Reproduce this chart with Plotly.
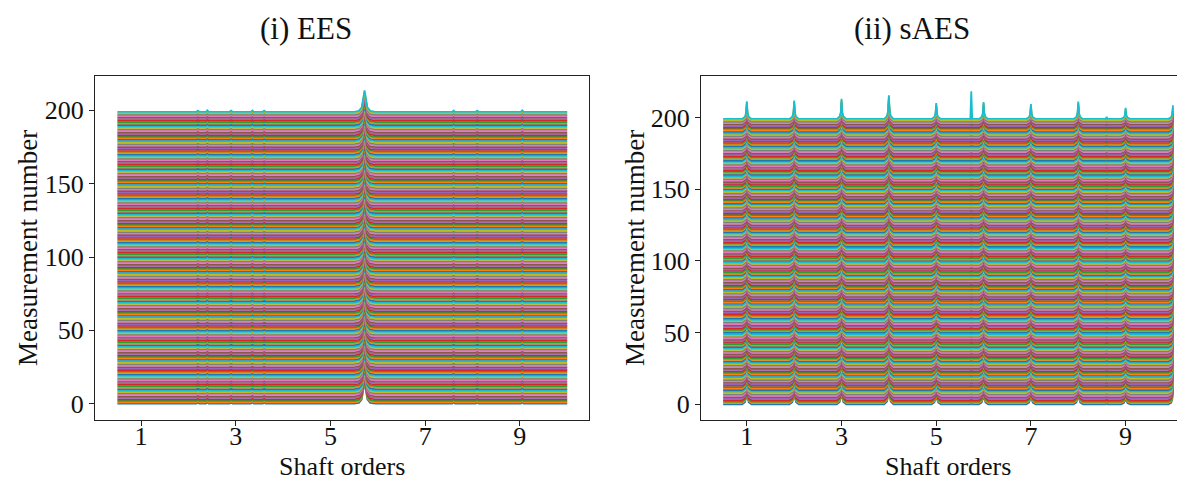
import plotly.graph_objects as go

# ---------------- data ----------------
measurement_numbers = list(range(200))

# EES: common spectral profile (shaft order, amplitude above the measurement offset)
ees_orders = [0.5, 2.17, 2.2, 2.23, 2.37, 2.4, 2.43, 2.87, 2.9, 2.93, 3.32, 3.35, 3.38,
              3.57, 3.6, 3.63, 5.5, 5.6, 5.66, 5.72, 5.78, 5.84, 5.95,
              7.57, 7.6, 7.63, 8.07, 8.1, 8.13, 9.02, 9.05, 9.08, 10.0]
ees_amplitude = [0.0, 0.0, 0.8, 0.0, 0.0, 1.0, 0.0, 0.0, 0.8, 0.0, 0.0, 0.9, 0.0,
                 0.0, 0.8, 0.0, 0.0, 0.6, 3.0, 14.5, 3.0, 0.6, 0.0,
                 0.0, 0.9, 0.0, 0.0, 0.8, 0.0, 0.0, 1.0, 0.0, 0.0]

# sAES: harmonics of the shaft order plus a spur at 5.74
saes_orders = [0.5,
               0.9, 0.96, 0.985, 1.0, 1.015, 1.04, 1.1,
               1.9, 1.96, 1.985, 2.0, 2.015, 2.04, 2.1,
               2.9, 2.96, 2.985, 3.0, 3.015, 3.04, 3.1,
               3.9, 3.96, 3.985, 4.0, 4.015, 4.04, 4.1,
               4.9, 4.96, 4.985, 5.0, 5.015, 5.04, 5.1,
               5.72, 5.74, 5.76,
               5.9, 5.96, 5.985, 6.0, 6.015, 6.04, 6.1,
               6.9, 6.96, 6.985, 7.0, 7.015, 7.04, 7.1,
               7.9, 7.96, 7.985, 8.0, 8.015, 8.04, 8.1,
               8.58, 8.6, 8.62,
               8.9, 8.96, 8.985, 9.0, 9.015, 9.04, 9.1,
               9.9, 9.96, 9.985, 10.0]
saes_amplitude = [0.0,
                  0.0, 1.5, 4.3, 12.3, 4.3, 1.5, 0.0,
                  0.0, 1.5, 4.4, 12.7, 4.4, 1.5, 0.0,
                  0.0, 1.7, 4.9, 14.0, 4.9, 1.7, 0.0,
                  0.0, 2.0, 5.8, 16.5, 5.8, 2.0, 0.0,
                  0.0, 1.3, 3.8, 11.0, 3.8, 1.3, 0.0,
                  0.0, 2.0, 0.0,
                  0.0, 1.4, 4.1, 11.8, 4.1, 1.4, 0.0,
                  0.0, 1.2, 3.6, 10.4, 3.6, 1.2, 0.0,
                  0.0, 1.4, 4.2, 12.0, 4.2, 1.4, 0.0,
                  0.0, 1.5, 0.0,
                  0.0, 0.9, 2.7, 7.7, 2.7, 0.9, 0.0,
                  0.0, 1.1, 3.3, 9.5]
# tall spur seen only on the last measurement
saes_spur_order = 5.74
saes_spur_amplitude = 19.3

tab10 = ["#1f77b4", "#ff7f0e", "#2ca02c", "#d62728", "#9467bd",
         "#8c564b", "#e377c2", "#7f7f7f", "#bcbd22", "#17becf"]

title_left = "(i) EES"
title_right = "(ii) sAES"
x_label = "Shaft orders"
y_label = "Measurement number"

# ---------------- figure ----------------
FONT = "Liberation Serif"
W, H = 1185, 480
fig = go.Figure()

for i, m in enumerate(measurement_numbers):
    fig.add_trace(go.Scatter(x=ees_orders, y=[m + a for a in ees_amplitude],
                             mode="lines", line=dict(color=tab10[i % 10], width=1.8),
                             xaxis="x", yaxis="y", showlegend=False, hoverinfo="skip"))

last = measurement_numbers[-1]
for i, m in enumerate(measurement_numbers):
    ys = [m + a for a in saes_amplitude]
    if m == last:
        ys[saes_orders.index(saes_spur_order)] = m + saes_spur_amplitude
    fig.add_trace(go.Scatter(x=saes_orders, y=ys,
                             mode="lines", line=dict(color=tab10[i % 10], width=1.8),
                             xaxis="x2", yaxis="y2", showlegend=False, hoverinfo="skip"))

axis_common = dict(showline=True, linecolor="#222", linewidth=1.2, ticks="outside",
                   ticklen=5, tickwidth=1.2, tickcolor="#222", showgrid=False,
                   zeroline=False, automargin=False,
                   tickfont=dict(family=FONT, size=26, color="#111"))

xl0, xl1 = 87, 581      # left plot area (px)
xr0 = 693               # right plot area starts here and runs off the right edge
yt, yb = 68, 412

fig.update_layout(
    width=W, height=H,
    margin=dict(l=0, r=0, t=0, b=0),
    paper_bgcolor="white", plot_bgcolor="white",
    xaxis=dict(domain=[xl0 / W, xl1 / W], range=[0.027, 10.46], tickvals=[1, 3, 5, 7, 9],
               mirror=True, ticklabelstandoff=-12, anchor="y", **axis_common),
    yaxis=dict(domain=[1 - yb / H, 1 - yt / H], range=[-11.1, 223.4],
               tickvals=[0, 50, 100, 150, 200], mirror=True, anchor="x", **axis_common),
    xaxis2=dict(domain=[xr0 / W, 1.0], range=[0.032, 10.423], tickvals=[1, 3, 5, 7, 9],
                mirror=True, ticklabelstandoff=-12, anchor="y2", **axis_common),
    yaxis2=dict(domain=[1 - yb / H, 1 - yt / H], range=[-10.9, 228.9],
                tickvals=[0, 50, 100, 150, 200], mirror=False, anchor="x2", **axis_common),
)

def txt(text, x, y, size, angle=0):
    fig.add_annotation(text=text, x=x / W, y=1 - y / H, xref="paper", yref="paper",
                       showarrow=False, xanchor="center", yanchor="middle", textangle=angle,
                       borderpad=0, font=dict(family=FONT, size=size, color="#111"))

txt(title_left, 298, 21, 31)
txt(title_right, 904, 21, 31)
txt(x_label, (xl0 + xl1) / 2, 458, 26)
txt(x_label, 940, 458, 26)
txt(y_label, 20, (yt + yb) / 2, 27, -90)
txt(y_label, 627, (yt + yb) / 2, 27, -90)

fig.write_html("out.html")
